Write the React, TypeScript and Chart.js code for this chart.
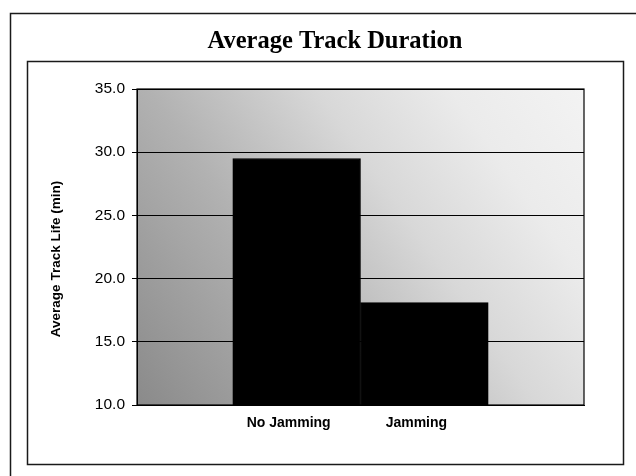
import React, { useEffect, useRef } from "react";
import { Chart, registerables } from "chart.js";

Chart.register(...registerables);

// ---- data ----
const categories = ["No Jamming", "Jamming"];
const trackLife = [29.5, 18.1];
const yTicks = [10, 15, 20, 25, 30, 35];
const chartTitle = "Average Track Duration";
const yAxisTitle = "Average Track Life (min)";

const SANS = '"Liberation Sans", Arial, sans-serif';
const SERIF = '"Liberation Serif", "Times New Roman", serif';

const decorPlugin = {
  id: "decor",
  beforeDraw(chart: any) {
    const { ctx, chartArea } = chart;
    ctx.save();
    ctx.fillStyle = "#ffffff";
    ctx.fillRect(0, 0, chart.width, chart.height);

    // outer frame
    ctx.strokeStyle = "#1a1a1a";
    ctx.lineWidth = 1.5;
    ctx.strokeRect(10.5, 13.5, 700, 700);
    // inner frame
    ctx.strokeRect(27.5, 61.5, 596, 403);

    // plot background (stippled gradient look)
    const { left, right, top, bottom } = chartArea;
    const g = ctx.createLinearGradient(left, bottom, right, top);
    g.addColorStop(0, "#8a8a8a");
    g.addColorStop(0.35, "#b2b2b2");
    g.addColorStop(0.6, "#d8d8d8");
    g.addColorStop(0.8, "#ebebeb");
    g.addColorStop(1, "#f3f3f3");
    ctx.fillStyle = g;
    ctx.fillRect(left, top, right - left, bottom - top);
    ctx.restore();
  },
  afterDatasetsDraw(chart: any) {
    const { ctx, chartArea } = chart;
    const { left, right, top, bottom } = chartArea;
    ctx.save();
    ctx.strokeStyle = "#000";
    ctx.lineWidth = 1.2;
    ctx.strokeRect(left, top, right - left, bottom - top);
    ctx.restore();
  },
  afterDraw(chart: any) {
    const { ctx } = chart;
    ctx.save();
    ctx.fillStyle = "#000";
    ctx.font = `bold 24.5px ${SERIF}`;
    ctx.textAlign = "center";
    ctx.textBaseline = "alphabetic";
    ctx.fillText(chartTitle, 335, 48);

    ctx.translate(56, 259);
    ctx.rotate(-Math.PI / 2);
    ctx.font = `bold 13.5px ${SANS}`;
    ctx.textBaseline = "middle";
    ctx.fillText(yAxisTitle, 0, 0);
    ctx.restore();
  },
};

export default function App() {
  const ref = useRef<HTMLCanvasElement | null>(null);

  useEffect(() => {
    if (!ref.current) return;
    const PAD_LEFT = 60;
    const chart = new Chart(ref.current, {
      type: "bar",
      data: {
        datasets: [
          {
            data: trackLife.map((v, i) => ({ x: i + 1, y: v })),
            backgroundColor: "#000000",
            borderColor: "#000000",
            borderWidth: 1,
            categoryPercentage: 1,
            barPercentage: 1,
          },
        ],
      },
      options: {
        animation: false,
        responsive: false,
        devicePixelRatio: 1,
        layout: { padding: { top: 89, right: 52, bottom: 0, left: PAD_LEFT } },
        plugins: {
          legend: { display: false },
          tooltip: { enabled: false },
          title: { display: false },
        },
        scales: {
          x: {
            type: "linear",
            min: -0.25,
            max: categories.length + 1.25,
            offset: false,
            grid: { display: false, drawTicks: false },
            border: { display: true, color: "#000", width: 1 },
            afterBuildTicks: (axis: any) => {
              axis.ticks = categories.map((_, i) => ({ value: i + 1 }));
            },
            afterFit: (axis: any) => {
              axis.height = 476 - 405;
            },
            ticks: {
              autoSkip: false,
              maxRotation: 0,
              labelOffset: -8,
              padding: 10,
              color: "#000",
              font: { family: SANS, size: 14, weight: "bold" },
              callback: (v: any) => categories[Math.round(Number(v)) - 1] ?? "",
            },
          },
          y: {
            min: yTicks[0],
            max: yTicks[yTicks.length - 1],
            afterFit: (axis: any) => {
              axis.width = 137 - PAD_LEFT;
            },
            grid: {
              color: "#000",
              lineWidth: 1,
              drawTicks: true,
              tickLength: 5,
              tickColor: "#000",
            },
            border: { display: true, color: "#000", width: 1 },
            ticks: {
              stepSize: yTicks[1] - yTicks[0],
              padding: 7,
              color: "#000",
              font: { family: SANS, size: 15.5 },
              callback: (v: any) => Number(v).toFixed(1),
            },
          },
        },
      } as any,
      plugins: [decorPlugin],
    });
    return () => chart.destroy();
  }, []);

  return (
    <div
      style={{
        position: "fixed",
        left: 0,
        top: 0,
        width: 636,
        height: 476,
        background: "#fff",
      }}
    >
      <canvas ref={ref} width={636} height={476} style={{ display: "block" }} />
    </div>
  );
}
